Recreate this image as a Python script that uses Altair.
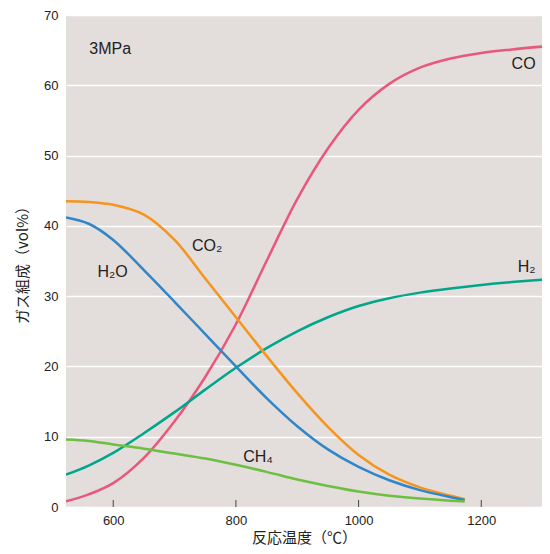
import altair as alt
import pandas as pd

# Temperatures (°C)
temp_full = [523, 560, 600, 650, 700, 750, 800, 850, 900, 950, 1000, 1050, 1100, 1150, 1200, 1250, 1312]
temp_short = [523, 560, 600, 650, 700, 750, 800, 850, 900, 950, 1000, 1050, 1100, 1150, 1173]

co = [0.8, 1.8, 3.4, 7.0, 12.2, 18.5, 26.0, 35.0, 43.8, 51.0, 56.5, 60.2, 62.5, 63.8, 64.6, 65.1, 65.6]
h2 = [4.6, 5.9, 7.7, 10.5, 13.5, 16.7, 19.8, 22.6, 25.0, 27.0, 28.6, 29.7, 30.5, 31.1, 31.6, 32.0, 32.4]
co2 = [43.5, 43.4, 43.0, 41.6, 38.0, 32.5, 27.0, 21.5, 16.2, 11.4, 7.4, 4.6, 2.8, 1.6, 1.1]
h2o = [41.2, 40.3, 38.0, 33.7, 29.2, 24.6, 20.0, 15.5, 11.5, 8.2, 5.7, 3.8, 2.4, 1.4, 1.0]
ch4 = [9.6, 9.4, 8.9, 8.3, 7.6, 6.9, 6.0, 5.0, 3.9, 3.0, 2.2, 1.6, 1.2, 0.9, 0.8]

series_names = ["CO", "H2", "CO2", "H2O", "CH4"]
series_colors = ["#e9587b", "#00a68b", "#f5951f", "#2f87c9", "#6cbf40"]

label_text = ["CO", "H₂", "CO₂", "H₂O", "CH₄", "3MPa"]
label_x = [1269, 1274, 753, 599, 836, 595]
label_y = [63.0, 34.1, 37.2, 33.4, 7.05, 65.2]

x_ticks = [600, 800, 1000, 1200]
y_ticks = [0, 10, 20, 30, 40, 50, 60, 70]

rows = []
for name, temps, vals in [("CO", temp_full, co), ("H2", temp_full, h2), ("CO2", temp_short, co2),
                          ("H2O", temp_short, h2o), ("CH4", temp_short, ch4)]:
    for t, v in zip(temps, vals):
        rows.append({"series": name, "temp": t, "value": v})
df = pd.DataFrame(rows)

labels_df = pd.DataFrame({"text": label_text, "temp": label_x, "value": label_y})
ticks_df = pd.DataFrame({"temp": x_ticks})

FONT = "Liberation Sans"
CJK = "Noto Sans CJK JP"

xscale = alt.Scale(domain=[523, 1299], nice=False, zero=False)
yscale = alt.Scale(domain=[0, 70], nice=False)

lines = alt.Chart(df).mark_line(strokeWidth=2.5, interpolate="catmull-rom", clip=True).encode(
    x=alt.X("temp:Q", scale=xscale,
            axis=alt.Axis(values=x_ticks, format="d", title="反応温度（℃）", grid=False, ticks=False, domain=False,
                          labelFont=FONT, labelFontSize=13, labelColor="#222", labelPadding=7,
                          titleFont=CJK, titleFontSize=15, titleFontWeight="normal", titleColor="#222",
                          titlePadding=3)),
    y=alt.Y("value:Q", scale=yscale,
            axis=alt.Axis(values=y_ticks, title="ガス組成（vol%）", grid=True, gridColor="white",
                          gridWidth=1.5, ticks=False, domain=False,
                          labelFont=FONT, labelFontSize=13, labelColor="#222", labelPadding=8,
                          titleFont=CJK, titleFontSize=15, titleFontWeight="normal", titleColor="#222",
                          titlePadding=13)),
    color=alt.Color("series:N", scale=alt.Scale(domain=series_names, range=series_colors), legend=None),
    detail="series:N",
)

text = alt.Chart(labels_df).mark_text(font=FONT, fontSize=16, color="#222", align="center", baseline="middle").encode(
    x=alt.X("temp:Q", scale=xscale),
    y=alt.Y("value:Q", scale=yscale),
    text="text:N",
)

ticks = alt.Chart(ticks_df).mark_rule(color="#444", strokeWidth=1).encode(
    x=alt.X("temp:Q", scale=xscale),
    y=alt.value(485),
    y2=alt.value(492),
)

chart = alt.layer(lines, ticks, text).properties(
    width=476, height=492,
    autosize=alt.AutoSizeParams(type="none"),
    padding={"left": 58, "top": 7, "right": 0, "bottom": 39},
    background="white",
).configure_view(fill="#e3dddb", stroke=None)

chart.save("out.html", embed_options={"renderer": "svg", "actions": False})
